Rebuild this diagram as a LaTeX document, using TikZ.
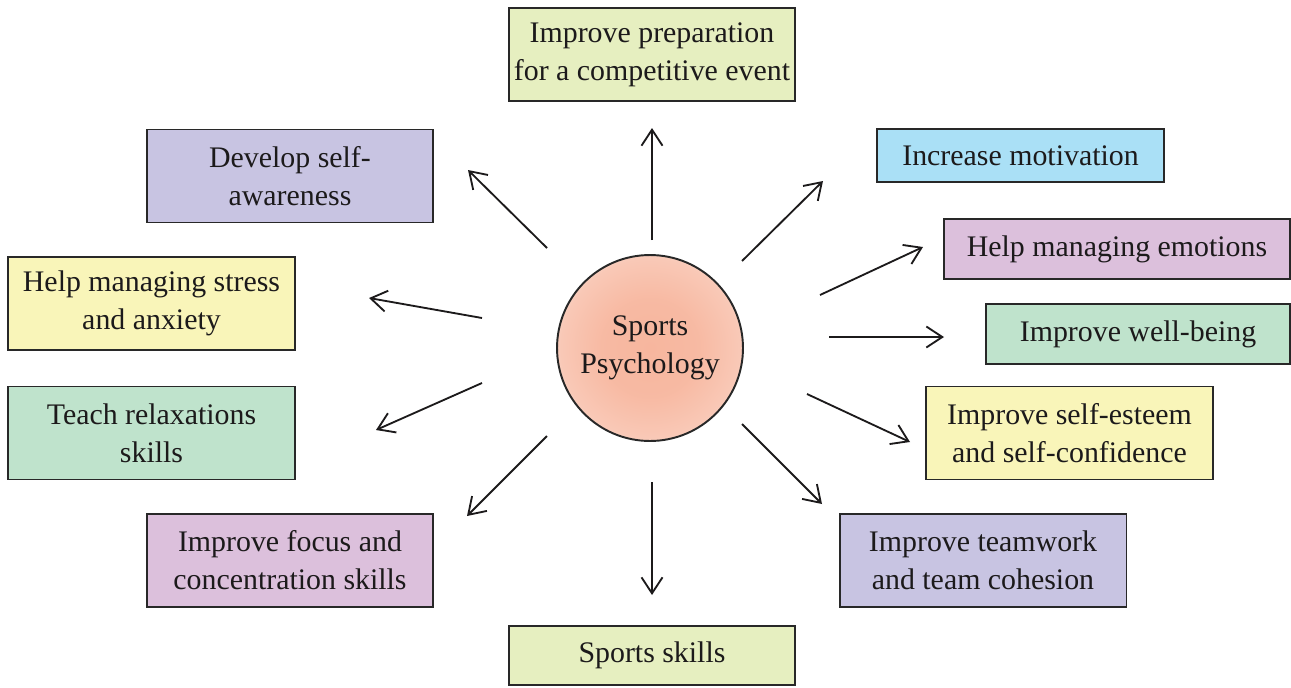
\documentclass[tikz,border=0pt]{standalone}
\usepackage{fontspec}
\setmainfont{Liberation Serif}
\usetikzlibrary{arrows.meta}

\definecolor{txt}{RGB}{28,26,27}
\definecolor{edge}{RGB}{40,40,40}
\definecolor{lime}{RGB}{230,239,192}
\definecolor{lav}{RGB}{200,196,226}
\definecolor{lemon}{RGB}{249,245,185}
\definecolor{mint}{RGB}{191,227,204}
\definecolor{lilac}{RGB}{220,192,220}
\definecolor{sky}{RGB}{170,224,246}
\definecolor{salmon}{RGB}{247,182,158}
\pgfdeclareradialshading{glow}{\pgfpoint{0bp}{0bp}}{color(0bp)=(salmon);
  color(13bp)=(salmon!95!white); color(24bp)=(salmon!75!white);
  color(31bp)=(salmon!35!white); color(35.4bp)=(white); color(50bp)=(white)}

\tikzset{
  goal/.style={draw=edge, line width=1.1pt, text=txt, align=center, inner sep=0pt,
    minimum width=5.72cm, minimum height=1.86cm,
    font=\fontsize{17}{21.5}\selectfont},
  arr/.style={-{Straight Barb[length=3.2mm,width=4.2mm]}, line width=1.05pt, draw=txt}
}

\begin{document}
\begin{tikzpicture}[x=0.02cm, y=0.02cm]
\useasboundingbox (0,0) rectangle (1291,-687);
% centre
\node [circle, draw=edge, line width=1.1pt, minimum size=3.72cm, inner sep=0pt,
  shading=glow, text=txt, align=center,
  font=\fontsize{17}{21.5}\selectfont] (sp) at (650,-348) {Sports\\Psychology};
% goals
\node [goal, fill=lime] (prep) at (652,-54.5) {Improve preparation\\for a competitive event};
\node [goal, fill=lav] (aware) at (290,-176) {Develop self-\\awareness};
\node [goal, fill=lemon, minimum width=5.74cm] (stress) at (151.5,-303.5) {Help managing stress\\and anxiety};
\node [goal, fill=mint, minimum width=5.74cm] (relax) at (151.5,-433) {Teach relaxations\\skills};
\node [goal, fill=lilac] (focus) at (290,-560.5) {Improve focus and\\concentration skills};
\node [goal, fill=lime, minimum height=1.18cm] (skills) at (652,-655.5) {Sports skills};
\node [goal, fill=sky, minimum width=5.74cm, minimum height=1.06cm] (motiv) at (1020.5,-155.5) {Increase motivation};
\node [goal, fill=lilac, minimum width=6.92cm, minimum height=1.2cm] (emot) at (1117,-249) {Help managing emotions};
\node [goal, fill=mint, minimum width=6.08cm, minimum height=1.2cm] (well) at (1138,-334) {Improve well-being};
\node [goal, fill=lemon, minimum width=5.74cm] (esteem) at (1069.5,-433) {Improve self-esteem\\and self-confidence};
\node [goal, fill=lav, minimum width=5.74cm] (team) at (983,-560.5) {Improve teamwork\\and team cohesion};
% arrow ends
\coordinate (t1) at (652,-240); \coordinate (h1) at (652,-128);
\coordinate (t2) at (547,-248); \coordinate (h2) at (468,-170);
\coordinate (t3) at (482,-318); \coordinate (h3) at (369,-298);
\coordinate (t4) at (482,-383); \coordinate (h4) at (376,-430);
\coordinate (t5) at (547,-436); \coordinate (h5) at (467,-516);
\coordinate (t6) at (652,-482); \coordinate (h6) at (652,-595);
\coordinate (t7) at (742,-261); \coordinate (h7) at (823,-181);
\coordinate (t8) at (820,-295); \coordinate (h8) at (923,-247);
\coordinate (t9) at (829,-337); \coordinate (h9) at (944,-337);
\coordinate (t10) at (807,-394); \coordinate (h10) at (910,-442);
\coordinate (t11) at (742,-424); \coordinate (h11) at (822,-504);
\draw [arr] (t1) -- (h1);
\draw [arr] (t2) -- (h2);
\draw [arr] (t3) -- (h3);
\draw [arr] (t4) -- (h4);
\draw [arr] (t5) -- (h5);
\draw [arr] (t6) -- (h6);
\draw [arr] (t7) -- (h7);
\draw [arr] (t8) -- (h8);
\draw [arr] (t9) -- (h9);
\draw [arr] (t10) -- (h10);
\draw [arr] (t11) -- (h11);
\end{tikzpicture}
\end{document}
